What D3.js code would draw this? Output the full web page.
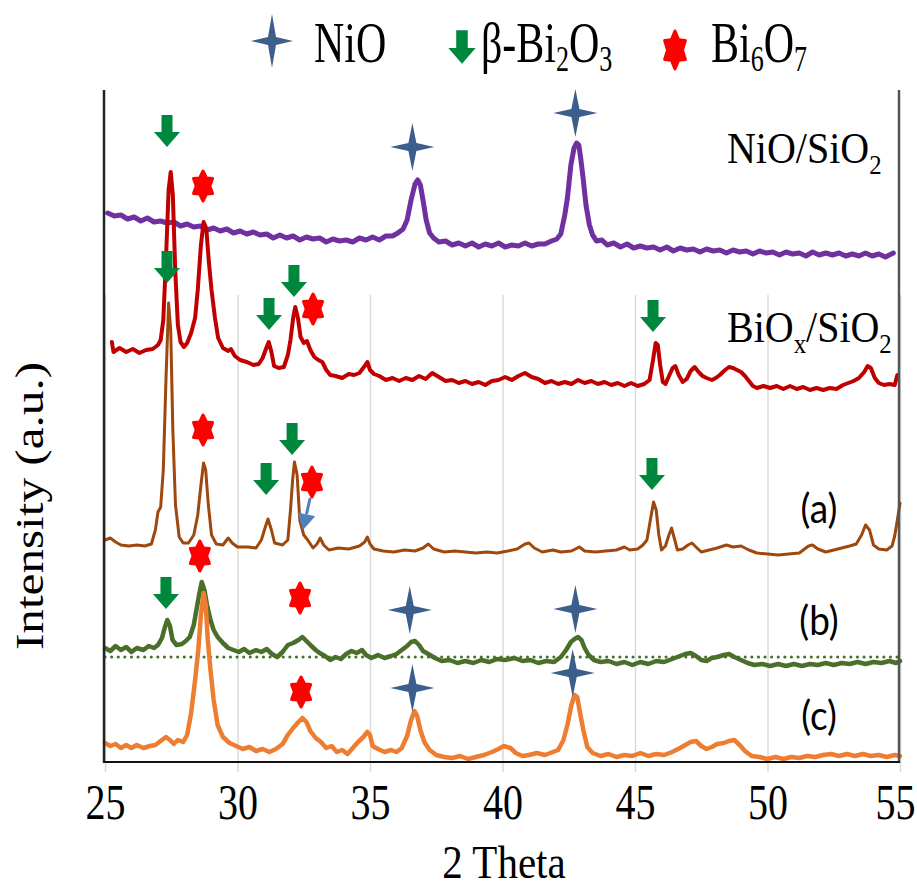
<!DOCTYPE html>
<html><head><meta charset="utf-8">
<script src="https://cdn.jsdelivr.net/npm/d3@7"></script>
<style>body{margin:0;background:#fff}</style>
</head><body><svg id="c" width="917" height="886"></svg>
<script>
// ---------- DATA ----------
const xTicks = [25, 30, 35, 40, 45, 50, 55];

// [2θ, intensity (a.u., stacked)]
const nioSio2 = [[25.10,549],[25.35,546],[25.60,547],[25.85,543],[26.10,545],[26.35,541],[26.60,544],[26.85,540],[27.10,541],[27.35,539],[27.60,540],[27.85,536],[28.10,538],[28.35,535],[28.60,536],[28.85,532],[29.10,534],[29.35,531],[29.60,533],[29.85,529],[30.10,531],[30.35,528],[30.60,530],[30.85,527],[31.10,528],[31.35,524],[31.60,527],[31.85,524],[32.10,526],[32.35,522],[32.60,525],[32.85,523],[33.10,524],[33.35,520],[33.60,523],[33.85,521],[34.10,522],[34.35,520],[34.60,524],[34.85,522],[35.10,525],[35.35,522],[35.60,526],[35.85,526],[36.05,529],[36.25,533],[36.40,542],[36.55,562],[36.70,578],[36.80,582],[36.90,577],[37.00,562],[37.12,542],[37.25,529],[37.40,524],[37.60,520],[37.85,521],[38.10,517],[38.35,519],[38.60,516],[38.85,519],[39.10,515],[39.35,518],[39.60,516],[39.85,519],[40.10,515],[40.35,517],[40.60,516],[40.85,519],[41.10,516],[41.35,518],[41.60,518],[41.85,521],[42.05,523],[42.20,528],[42.35,547],[42.45,564],[42.58,597],[42.70,614],[42.80,619],[42.88,617],[42.95,604],[43.05,582],[43.15,557],[43.28,537],[43.40,527],[43.55,521],[43.75,522],[43.95,517],[44.20,519],[44.45,515],[44.70,518],[44.95,514],[45.20,516],[45.45,514],[45.70,515],[45.95,512],[46.20,515],[46.45,511],[46.70,514],[46.95,512],[47.20,513],[47.45,510],[47.70,513],[47.95,511],[48.20,512],[48.45,509],[48.70,512],[48.95,510],[49.20,511],[49.45,508],[49.70,511],[49.95,509],[50.20,510],[50.45,507],[50.70,510],[50.95,508],[51.20,509],[51.45,506],[51.70,510],[51.95,507],[52.20,509],[52.45,507],[52.70,509],[52.95,506],[53.20,508],[53.45,506],[53.70,509],[53.95,506],[54.20,508],[54.45,505],[54.75,509]];

const biox = [[25.26,420],[25.32,410],[25.55,414],[25.80,410],[26.05,413],[26.30,409],[26.55,412],[26.80,413],[27.00,417],[27.10,422],[27.20,442],[27.30,502],[27.40,572],[27.48,590],[27.56,567],[27.65,492],[27.75,437],[27.85,420],[27.98,415],[28.10,419],[28.25,429],[28.40,444],[28.50,472],[28.62,517],[28.72,540],[28.82,534],[28.92,500],[29.02,472],[29.15,444],[29.27,424],[29.45,414],[29.65,411],[29.75,413],[29.90,406],[30.10,402],[30.35,400],[30.60,397],[30.80,398],[30.95,404],[31.10,415],[31.18,420],[31.28,410],[31.38,396],[31.55,394],[31.75,395],[31.90,407],[32.00,422],[32.10,444],[32.18,455],[32.28,444],[32.38,425],[32.50,419],[32.62,421],[32.75,412],[32.90,405],[33.05,402],[33.20,400],[33.35,392],[33.50,387],[33.70,386],[33.95,384],[34.20,388],[34.40,387],[34.60,389],[34.80,396],[34.90,400],[35.00,392],[35.15,388],[35.35,386],[35.60,382],[35.85,384],[36.10,381],[36.35,384],[36.60,382],[36.85,386],[37.10,383],[37.35,389],[37.60,385],[37.85,381],[38.10,382],[38.35,379],[38.60,381],[38.85,378],[39.10,380],[39.35,377],[39.60,381],[39.85,382],[40.10,385],[40.35,382],[40.60,386],[40.85,389],[41.10,385],[41.35,383],[41.60,379],[41.85,381],[42.10,378],[42.35,380],[42.60,378],[42.85,382],[43.10,379],[43.35,381],[43.60,378],[43.85,380],[44.10,377],[44.35,379],[44.60,376],[44.85,379],[45.10,376],[45.35,378],[45.55,382],[45.68,402],[45.78,419],[45.86,417],[45.95,397],[46.05,380],[46.15,378],[46.30,387],[46.42,394],[46.52,396],[46.65,387],[46.80,380],[46.95,383],[47.10,391],[47.25,395],[47.40,390],[47.55,386],[47.70,384],[47.90,382],[48.05,384],[48.20,387],[48.40,392],[48.55,395],[48.70,394],[48.85,392],[49.00,390],[49.15,386],[49.30,381],[49.45,376],[49.60,374],[49.85,376],[50.10,374],[50.35,376],[50.60,373],[50.85,376],[51.10,373],[51.35,375],[51.60,372],[51.85,374],[52.10,372],[52.35,374],[52.60,373],[52.85,377],[53.05,379],[53.25,381],[53.45,384],[53.65,390],[53.78,396],[53.90,394],[54.05,384],[54.20,379],[54.40,377],[54.60,378],[54.80,377],[54.90,387]];

const sampleA = [[25.00,222],[25.20,224],[25.40,220],[25.60,217],[25.90,216],[26.20,217],[26.50,216],[26.75,218],[26.90,232],[27.00,250],[27.10,255],[27.20,292],[27.30,382],[27.40,459],[27.48,432],[27.56,332],[27.66,257],[27.80,225],[27.95,219],[28.15,219],[28.35,227],[28.50,247],[28.62,277],[28.72,299],[28.80,292],[28.90,257],[29.02,227],[29.20,218],[29.45,217],[29.65,224],[29.80,219],[30.00,215],[30.40,215],[30.70,214],[30.90,222],[31.05,235],[31.15,243],[31.28,232],[31.40,219],[31.70,217],[31.90,222],[32.00,252],[32.08,282],[32.15,300],[32.25,287],[32.35,242],[32.50,227],[32.65,222],[32.85,214],[33.00,218],[33.12,224],[33.25,217],[33.45,212],[33.80,214],[34.20,213],[34.60,216],[34.80,220],[34.90,225],[35.00,218],[35.15,213],[35.50,211],[35.90,210],[36.30,212],[36.70,211],[37.00,214],[37.20,218],[37.40,213],[37.80,210],[38.20,211],[38.60,210],[39.00,209],[39.40,210],[39.80,209],[40.20,211],[40.55,213],[40.85,218],[41.00,219],[41.20,214],[41.50,210],[41.90,212],[42.20,210],[42.60,211],[42.90,215],[43.10,211],[43.50,210],[43.90,211],[44.30,212],[44.60,215],[44.80,212],[45.10,213],[45.30,217],[45.45,222],[45.58,242],[45.70,260],[45.80,252],[45.90,227],[46.00,212],[46.15,216],[46.28,227],[46.38,234],[46.48,224],[46.60,212],[46.80,213],[47.00,217],[47.15,219],[47.30,215],[47.50,210],[47.80,212],[48.10,214],[48.45,217],[48.70,215],[49.00,216],[49.30,212],[49.60,209],[50.00,208],[50.40,207],[50.80,208],[51.20,209],[51.55,216],[51.70,217],[51.90,213],[52.20,210],[52.50,212],[52.80,214],[53.10,216],[53.35,218],[53.55,227],[53.70,237],[53.85,232],[54.00,217],[54.20,213],[54.50,212],[54.70,216],[54.80,226],[54.90,242],[55.00,259]];

const sampleB = [[25.00,114],[25.20,111],[25.40,116],[25.60,112],[25.80,115],[26.00,110],[26.20,114],[26.45,112],[26.65,116],[26.85,114],[27.00,117],[27.15,124],[27.25,134],[27.35,142],[27.45,136],[27.55,122],[27.70,117],[27.90,118],[28.05,121],[28.20,125],[28.35,137],[28.45,152],[28.55,167],[28.65,180],[28.75,172],[28.85,157],[28.98,142],[29.10,132],[29.25,125],[29.45,119],[29.65,114],[29.85,112],[30.05,110],[30.25,113],[30.45,109],[30.70,112],[30.90,110],[31.10,113],[31.30,108],[31.50,105],[31.70,110],[31.90,117],[32.10,119],[32.30,122],[32.45,125],[32.60,121],[32.75,117],[32.95,112],[33.10,109],[33.30,106],[33.50,102],[33.70,105],[33.90,103],[34.10,108],[34.30,111],[34.50,109],[34.70,112],[34.85,107],[35.05,104],[35.30,107],[35.55,104],[35.80,106],[36.00,108],[36.20,112],[36.40,116],[36.55,120],[36.70,121],[36.85,117],[37.00,111],[37.20,108],[37.45,104],[37.70,101],[38.00,102],[38.30,99],[38.60,101],[38.90,99],[39.20,102],[39.50,100],[39.80,103],[40.10,102],[40.45,104],[40.75,101],[41.05,102],[41.35,99],[41.65,101],[41.95,100],[42.20,105],[42.40,112],[42.58,120],[42.72,123],[42.85,125],[42.98,122],[43.10,114],[43.25,107],[43.45,102],[43.70,100],[44.00,101],[44.30,98],[44.60,100],[44.90,97],[45.20,100],[45.50,98],[45.80,101],[46.10,100],[46.40,103],[46.70,106],[46.90,108],[47.10,109],[47.30,106],[47.50,102],[47.70,101],[47.90,104],[48.10,105],[48.35,107],[48.55,108],[48.75,105],[49.00,102],[49.25,99],[49.50,97],[49.80,98],[50.10,96],[50.40,98],[50.70,96],[51.00,98],[51.30,96],[51.60,98],[51.90,97],[52.20,99],[52.50,97],[52.80,99],[53.10,98],[53.40,100],[53.70,98],[54.00,100],[54.30,99],[54.60,101],[54.85,99],[55.00,101]];

const baselineB = [[25,105],[55,105]];

const sampleC = [[25.00,19],[25.20,16],[25.40,18],[25.60,14],[25.80,17],[26.00,14],[26.20,17],[26.45,14],[26.70,16],[26.90,17],[27.10,21],[27.30,25],[27.45,22],[27.60,18],[27.75,22],[27.95,20],[28.10,27],[28.25,49],[28.40,82],[28.52,112],[28.62,147],[28.72,169],[28.80,157],[28.88,122],[28.98,92],[29.10,62],[29.25,37],[29.45,25],[29.70,19],[29.95,16],[30.20,13],[30.45,15],[30.70,11],[30.95,13],[31.20,10],[31.45,13],[31.70,18],[31.90,27],[32.10,34],[32.30,40],[32.45,44],[32.60,40],[32.75,31],[32.95,24],[33.15,20],[33.35,14],[33.55,16],[33.75,10],[33.95,12],[34.15,8],[34.35,14],[34.55,20],[34.75,25],[34.90,30],[35.00,27],[35.10,16],[35.30,13],[35.55,10],[35.80,12],[36.00,10],[36.20,14],[36.40,26],[36.55,42],[36.68,51],[36.78,46],[36.90,32],[37.05,20],[37.25,12],[37.50,7],[37.80,5],[38.10,4],[38.40,6],[38.70,3],[39.00,5],[39.30,7],[39.60,10],[39.85,13],[40.05,16],[40.30,14],[40.50,9],[40.75,6],[41.00,7],[41.30,9],[41.60,7],[41.90,10],[42.10,12],[42.30,22],[42.45,37],[42.60,57],[42.72,67],[42.82,65],[42.92,50],[43.05,32],[43.20,15],[43.40,9],[43.70,6],[44.00,8],[44.30,5],[44.60,7],[44.90,6],[45.20,9],[45.50,6],[45.80,8],[46.10,7],[46.40,10],[46.70,14],[46.90,17],[47.10,20],[47.30,21],[47.50,16],[47.70,13],[47.90,15],[48.10,18],[48.35,19],[48.55,21],[48.75,22],[48.95,17],[49.15,11],[49.40,6],[49.70,5],[50.00,3],[50.30,5],[50.60,3],[50.90,5],[51.20,4],[51.50,6],[51.80,5],[52.10,7],[52.40,8],[52.70,6],[53.00,8],[53.30,6],[53.60,8],[53.90,6],[54.20,7],[54.50,5],[54.80,7],[55.00,6]];

// phase markers [2θ, intensity]
const nioMarks = [[36.6,615],[42.75,649],[36.5,152],[42.75,153],[36.6,74],[42.65,89]];
const betaMarks = [[27.34,631],[27.34,495],[31.19,448],[32.13,481],[45.68,446],[31.08,283],[32.06,323],[45.64,288],[27.30,169]];
const bi6o7Marks = [[28.70,576],[32.85,453],[28.70,332],[32.81,280],[28.58,206],[32.36,164],[32.40,70]];
const pointerA = [[32.74,264],[32.47,232]];

// ---------- DRAW ----------
const svg = d3.select('#c');
const x = d3.scaleLinear().domain([25,55]).range([105,900]);
const y = d3.scaleLinear().domain([0,680]).range([762,82]);
const SERIF = "'Liberation Serif','Times New Roman',Times,serif";

// gridlines
const grid = svg.append('g').attr('transform','translate(0,772)')
  .call(d3.axisBottom(x).tickValues(xTicks).tickSize(-(772-295)).tickFormat(''));
grid.select('.domain').remove();
grid.selectAll('line').attr('stroke','#d9d9d9').attr('stroke-width',1.5);

const line = d3.line().x(d=>x(d[0])).y(d=>y(d[1]));
function drawSeries(data,color,w,dash){
  const p = svg.append('path').datum(data).attr('d',line).attr('fill','none')
    .attr('stroke',color).attr('stroke-width',w).attr('stroke-linejoin','round').attr('stroke-linecap','round');
  if(dash) p.attr('stroke-dasharray',dash);
  return p;
}
drawSeries(sampleB,'#4a6f2a',4.5);
drawSeries(baselineB,'#4a6f2a',3,'0.1,6.5');
drawSeries(sampleC,'#ed7d31',4.5);
drawSeries(nioSio2,'#7030a0',5);
drawSeries(biox,'#c00000',4);
drawSeries(sampleA,'#9e480e',3);

// frame
svg.append('line').attr('x1',x(25)-1).attr('x2',x(25)-1).attr('y1',90).attr('y2',y(0)+1).attr('stroke','#222').attr('stroke-width',2.5);
svg.append('line').attr('x1',x(55)-1).attr('x2',x(55)-1).attr('y1',90).attr('y2',y(0)+1).attr('stroke','#555').attr('stroke-width',2.5);
svg.append('line').attr('x1',x(25)-1).attr('x2',x(55)).attr('y1',y(0)).attr('y2',y(0)).attr('stroke','#111').attr('stroke-width',2);

// tick labels
const ax = svg.append('g').attr('transform','translate(0,762)')
  .call(d3.axisBottom(x).tickValues(xTicks).tickSize(0).tickFormat(d3.format('d')));
ax.select('.domain').remove();
ax.attr('font-family',SERIF).attr('font-size',40);
ax.selectAll('text').attr('y',null).attr('dy',null)
  .attr('transform',d=>`translate(${d===55?-5:0},57) scale(1,1.25)`)
  .style('font-family',SERIF).attr('font-size',40).attr('fill','#000');

// shapes
const star4 = (w,h,i)=>`M0,${-h}L${i},${-i}L${w},0L${i},${i}L0,${h}L${-i},${i}L${-w},0L${-i},${-i}Z`;
function star6(rx,ry){
  let p=[];
  for(let k=0;k<12;k++){
    const a=-Math.PI/2+k*Math.PI/6, r=(k%2===0)?1:0.62;
    p.push([rx*r*Math.cos(a), ry*r*Math.sin(a)]);
  }
  return 'M'+p.map(q=>q[0].toFixed(2)+','+q[1].toFixed(2)).join('L')+'Z';
}
const arrowDown = (s)=>`M${-5.5*s},${-16*s}L${5.5*s},${-16*s}L${5.5*s},${1*s}L${13*s},${1*s}L0,${16*s}L${-13*s},${1*s}L${-5.5*s},${1*s}Z`;

svg.append('g').selectAll('path').data(nioMarks).join('path')
  .attr('transform',d=>`translate(${x(d[0])},${y(d[1])})`)
  .attr('d',star4(22,24,4)).attr('fill','#3b5e8c');
svg.append('g').selectAll('path').data(betaMarks).join('path')
  .attr('transform',d=>`translate(${x(d[0])},${y(d[1])})`)
  .attr('d',arrowDown(1)).attr('fill','#00873e');
svg.append('g').selectAll('path').data(bi6o7Marks).join('path')
  .attr('transform',d=>`translate(${x(d[0])},${y(d[1])})`)
  .attr('d',star6(11,15)).attr('fill','#ff0000').attr('stroke','#ff0000').attr('stroke-width',3).attr('stroke-linejoin','round');

// pointer arrow in (a)
{
  const [p0,p1]=pointerA.map(d=>[x(d[0]),y(d[1])]);
  const ang=Math.atan2(p1[1]-p0[1],p1[0]-p0[0]);
  const hl=16, hw=9;
  const bx=p1[0]-hl*Math.cos(ang), by=p1[1]-hl*Math.sin(ang);
  svg.append('line').attr('x1',p0[0]).attr('y1',p0[1]).attr('x2',bx).attr('y2',by)
    .attr('stroke','#4f81bd').attr('stroke-width',3);
  const nx=-Math.sin(ang), ny=Math.cos(ang);
  svg.append('path').attr('d',`M${p1[0]},${p1[1]}L${bx+nx*hw},${by+ny*hw}L${bx-nx*hw},${by-ny*hw}Z`).attr('fill','#4f81bd');
}

// text helper: strings are normal, {sub:'..'} are subscripts
function stext(xp,yp,sy,size,family,parts,anchor,shift){
  shift = shift||10;
  const g=svg.append('g').attr('transform',`translate(${xp},${yp}) scale(1,${sy})`);
  const t=g.append('text').style('font-family',family).attr('font-size',size).attr('fill','#000')
    .attr('text-anchor',anchor||'start');
  let inSub=false;
  parts.forEach(p=>{
    if(typeof p==='string'){
      const ts=t.append('tspan').attr('font-size',size).text(p);
      if(inSub) ts.attr('dy',-shift);
      inSub=false;
    } else {
      const ts=t.append('tspan').attr('font-size',size*0.62).text(p.sub);
      if(!inSub) ts.attr('dy',shift);
      inSub=true;
    }
  });
  return t;
}
// sample labels
stext(727,163,1.13,40,SERIF,['NiO/SiO',{sub:'2'}]);
stext(727,342,1.13,40,SERIF,['BiO',{sub:'x'},'/SiO',{sub:'2'}]);
const SANS="Lato,'Open Sans',sans-serif";
stext(819,523,1.08,37,SANS,['(a)'],'middle');
stext(819,635,1.08,37,SANS,['(b)'],'middle');
stext(819,730,1.08,37,SANS,['(c)'],'middle');

// axis titles
stext(504,878,1.12,41,SERIF,['2 Theta'],'middle');
svg.append('text').attr('transform','translate(43,506) rotate(-90) scale(1.2,1)')
  .attr('text-anchor','middle').style('font-family',SERIF).attr('font-size',41).text('Intensity (a.u.)');

// legend
const lg=svg.append('g');
lg.append('path').attr('transform','translate(272,41)').attr('d',star4(21,27,4)).attr('fill','#3e5f8a');
lg.append('path').attr('transform','translate(462,47)').attr('d',arrowDown(1.05)).attr('fill','#00873e');
lg.append('path').attr('transform','translate(675,50)').attr('d',star6(12,19)).attr('fill','#ff0000').attr('stroke','#ff0000').attr('stroke-width',3).attr('stroke-linejoin','round');
stext(314,62,1.35,42,SERIF,['NiO']);
stext(481,62,1.35,42,SERIF,['β-Bi',{sub:'2'},'O',{sub:'3'}],'start',7);
stext(711,62,1.35,42,SERIF,['Bi',{sub:'6'},'O',{sub:'7'}],'start',7);
</script></body></html>
